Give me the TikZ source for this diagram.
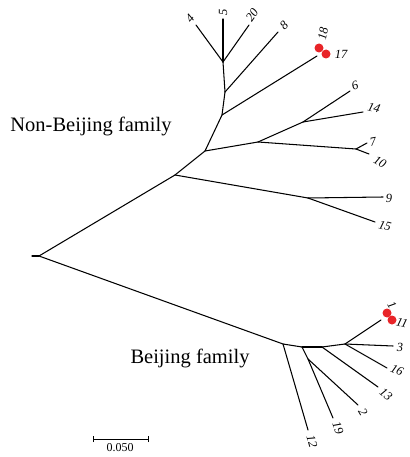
\documentclass[tikz,border=0pt]{standalone}
\usepackage{fontspec}
\setmainfont{Liberation Serif}
\definecolor{mark}{RGB}{232,36,40}
\begin{document}
\begin{tikzpicture}[x=1pt,y=-1pt,
  br/.style={line width=1.05pt,line cap=round,line join=round},
  tip/.style={font=\fontsize{12.5}{14}\selectfont\itshape,inner sep=0pt},
  grp/.style={font=\fontsize{20.5}{24}\selectfont,inner sep=0pt},
  dot/.style={circle,fill=mark,draw=none,minimum size=9pt,inner sep=0pt}]
\useasboundingbox (0,0) rectangle (409,457);
% internal nodes
\coordinate (S) at (32,256);
\coordinate (R) at (39,256);
\coordinate (A) at (175,175);
\coordinate (C) at (205,151);
\coordinate (D) at (308,198);
\coordinate (E) at (258,142);
\coordinate (F) at (222,115);
\coordinate (G) at (303,122);
\coordinate (H) at (356,149);
\coordinate (I) at (225,92);
\coordinate (J) at (223,62);
\coordinate (B1) at (283,344);
\coordinate (B2) at (302,347);
\coordinate (B3) at (322,347);
\coordinate (B4) at (345,344);
\coordinate (K) at (308,359);
% tips
\coordinate (t4) at (196,25);
\coordinate (t5) at (223,19);
\coordinate (t20) at (249,25);
\coordinate (t8) at (278,32);
\coordinate (t17) at (317,56);
\coordinate (t6) at (350,91);
\coordinate (t14) at (363,112);
\coordinate (t7) at (367,143);
\coordinate (t10) at (369,154);
\coordinate (t9) at (383,197);
\coordinate (t15) at (375,222);
\coordinate (t1) at (381,320);
\coordinate (t3) at (393,346);
\coordinate (t16) at (387,368);
\coordinate (t13) at (378,387);
\coordinate (t2) at (358,405);
\coordinate (t19) at (333,418);
\coordinate (t12) at (308,430);
% branches
\draw[br] (S) -- (R);
\draw[br] (R) -- (A);
\draw[br] (R) -- (B1);
\draw[br] (A) -- (C);
\draw[br] (A) -- (D);
\draw[br] (D) -- (t9);
\draw[br] (D) -- (t15);
\draw[br] (C) -- (E);
\draw[br] (C) -- (F);
\draw[br] (E) -- (G);
\draw[br] (E) -- (H);
\draw[br] (G) -- (t6);
\draw[br] (G) -- (t14);
\draw[br] (H) -- (t7);
\draw[br] (H) -- (t10);
\draw[br] (F) -- (t17);
\draw[br] (F) -- (I);
\draw[br] (I) -- (t8);
\draw[br] (I) -- (J);
\draw[br] (J) -- (t4);
\draw[br] (J) -- (t5);
\draw[br] (J) -- (t20);
\draw[br] (B1) -- (t12);
\draw[br] (B1) -- (B2);
\draw[br] (B2) -- (B3);
\draw[br] (B3) -- (B4);
\draw[br] (B2) -- (K);
\draw[br] (K) -- (t19);
\draw[br] (K) -- (t2);
\draw[br] (B3) -- (t13);
\draw[br] (B4) -- (t3);
\draw[br] (B4) -- (t16);
\draw[br] (B4) -- (t1);
% red markers
\node[dot] (d18) at (319,48) {};
\node[dot] (d17) at (326,54) {};
\node[dot] (d1) at (387,313) {};
\node[dot] (d11) at (392,320) {};
% tip labels
\node[tip,rotate=50] (l4) at (190,18) {4};
\node[tip,rotate=90] (l5) at (223,12) {5};
\node[tip,rotate=55] (l20) at (252,15) {20};
\node[tip,rotate=45] (l8) at (284,25) {8};
\node[tip,rotate=80] (l18) at (323,34) {18};
\node[tip] (l17) at (341,54) {17};
\node[tip,rotate=20] (l6) at (355,86) {6};
\node[tip,rotate=-15] (l14) at (374,108) {14};
\node[tip,rotate=10] (l7) at (373,142) {7};
\node[tip,rotate=-30] (l10) at (380,162) {10};
\node[tip] (l9) at (389,198) {9};
\node[tip,rotate=-15] (l15) at (385,226) {15};
\node[tip,rotate=-60] (l1) at (392,305) {1};
\node[tip,rotate=-15] (l11) at (402,323) {11};
\node[tip] (l3) at (400,347) {3};
\node[tip,rotate=-25] (l16) at (397,370) {16};
\node[tip,rotate=-40] (l13) at (386,394) {13};
\node[tip,rotate=-60] (l2) at (363,412) {2};
\node[tip,rotate=-70] (l19) at (338,428) {19};
\node[tip,rotate=-75] (l12) at (312,441) {12};
% group labels
\node[grp] (nb) at (91,126) {Non-Beijing family};
\node[grp] (bj) at (190,358) {Beijing family};
% scale bar
\coordinate (sb1) at (93,439);
\coordinate (sb2) at (148,439);
\draw[line width=0.9pt] (sb1) -- (sb2);
\draw[line width=0.9pt] ([yshift=-3]sb1) -- ([yshift=3]sb1);
\draw[line width=0.9pt] ([yshift=-3]sb2) -- ([yshift=3]sb2);
\node[font=\fontsize{12}{14}\selectfont,inner sep=0pt] (sbl) at (120,448) {0.050};
\end{tikzpicture}
\end{document}
